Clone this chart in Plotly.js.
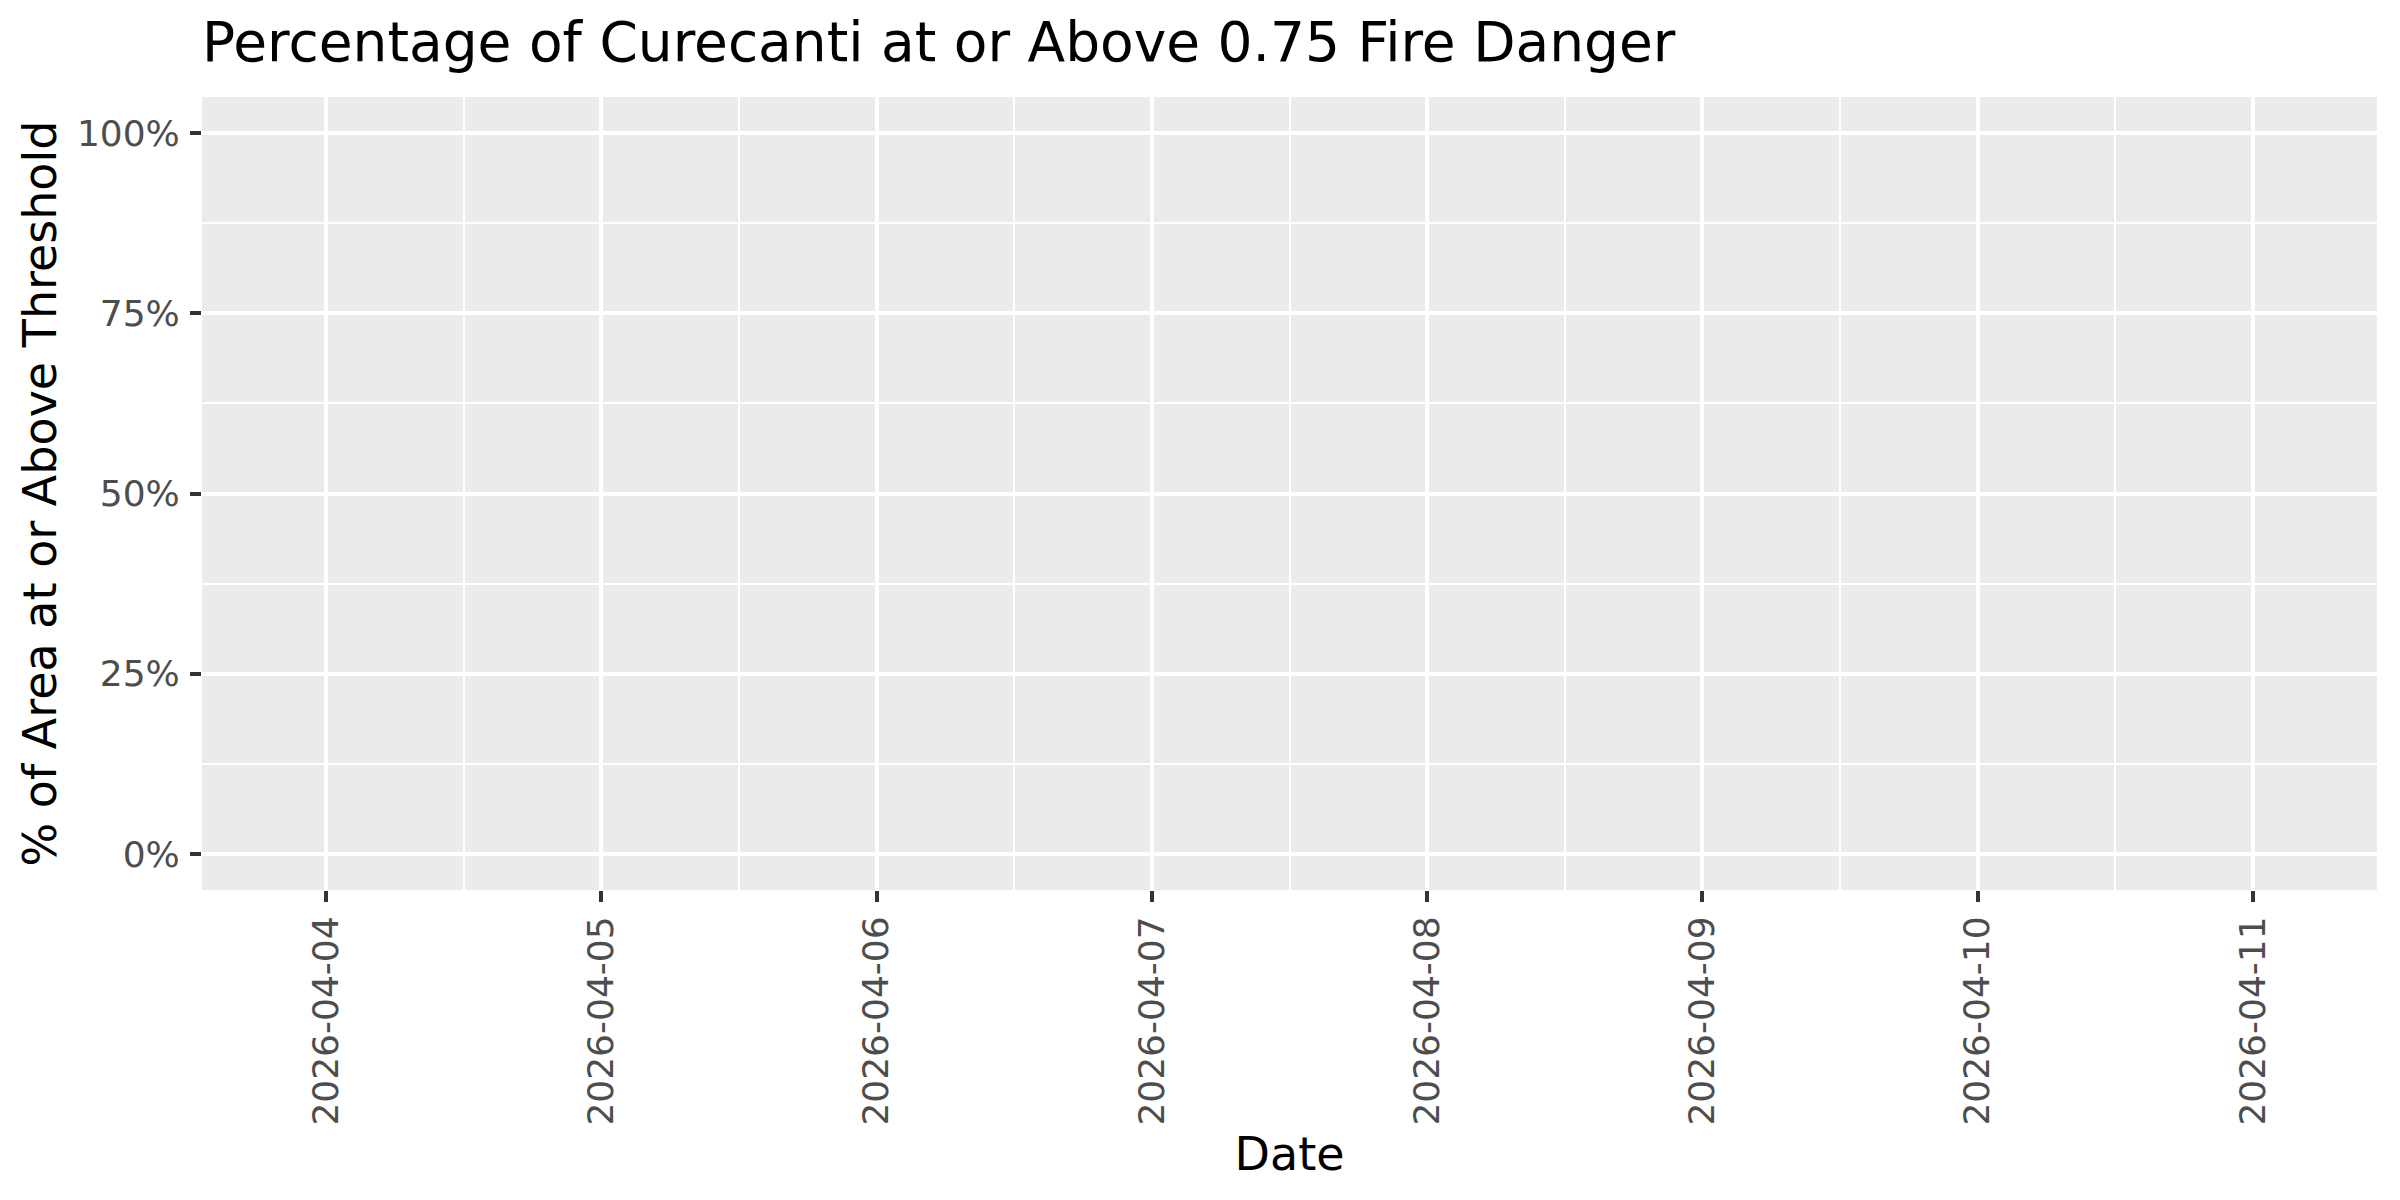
<!DOCTYPE html>
<html>
<head>
<meta charset="utf-8">
<script src="https://cdn.plot.ly/plotly-3.0.1.min.js"></script>
<style>
  body { margin:0; padding:0; background:#ffffff; }
  #myDiv { width:2400px; height:1200px; }
</style>
</head>
<body>
<div id="myDiv"></div>
<script>
// daily share of Curecanti at or above the 0.75 fire danger threshold
// (no values were drawn in the source chart, so the series is empty)
var dates = ['2026-04-04','2026-04-05','2026-04-06','2026-04-07',
             '2026-04-08','2026-04-09','2026-04-10','2026-04-11'];
var pctAbove = [null, null, null, null, null, null, null, null];
var yTicks = [0, 0.25, 0.5, 0.75, 1];
var yTickText = ['0%','25%','50%','75%','100%'];

var chartTitle = 'Percentage of Curecanti at or Above 0.75 Fire Danger';

var trace = {
  x: dates,
  y: pctAbove,
  type: 'scatter',
  mode: 'lines',
  line: { color:'#000000', width:2 },
  showlegend: false,
  connectgaps: false
};

var font_family = 'DejaVu Sans, sans-serif';

var layout = {
  width: 2400,
  height: 1200,
  paper_bgcolor: '#ffffff',
  plot_bgcolor: '#ebebeb',
  margin: { l:202, r:23, t:97, b:310 },
  font: { family: font_family, color:'#4d4d4d' },
  title: {
    text: chartTitle,
    font: { family: font_family, size:55, color:'#000000' },
    x: 0, xref: 'paper', xanchor: 'left',
    y: 1 - 42/1200, yref: 'container', yanchor: 'middle'
  },
  xaxis: {
    type: 'date',
    range: ['2026-04-03 13:12', '2026-04-11 10:48'],
    tickvals: dates,
    ticktext: dates,
    tickangle: -90,
    ticks: 'outside',
    ticklen: 11,
    tickwidth: 4,
    tickcolor: '#333333',
    tickfont: { size:36, color:'#4d4d4d' },
    showgrid: true,
    gridcolor: '#ffffff',
    gridwidth: 4,
    zeroline: false,
    showline: false,
    minor: { dtick: 43200000, tick0: '2026-04-04', showgrid: true, gridcolor:'#ffffff', gridwidth: 2, ticks: '' },
    title: { text: 'Date', font: { size:46, color:'#000000' }, standoff: 13 }
  },
  yaxis: {
    range: [-0.05, 1.05],
    tickvals: yTicks,
    ticktext: yTickText,
    ticks: 'outside',
    ticklen: 11,
    tickwidth: 4,
    tickcolor: '#333333',
    tickfont: { size:36, color:'#4d4d4d' },
    ticklabelstandoff: 3,
    showgrid: true,
    gridcolor: '#ffffff',
    gridwidth: 4,
    zeroline: false,
    showline: false,
    minor: { dtick: 0.125, tick0: 0, showgrid: true, gridcolor:'#ffffff', gridwidth: 2, ticks: '' },
    title: { text: '% of Area at or Above Threshold', font: { size:46, color:'#000000' }, standoff: 5 }
  }
};

var config = { displayModeBar:false, responsive:false, staticPlot:true };

Plotly.newPlot('myDiv', [trace], layout, config);
</script>
</body>
</html>
